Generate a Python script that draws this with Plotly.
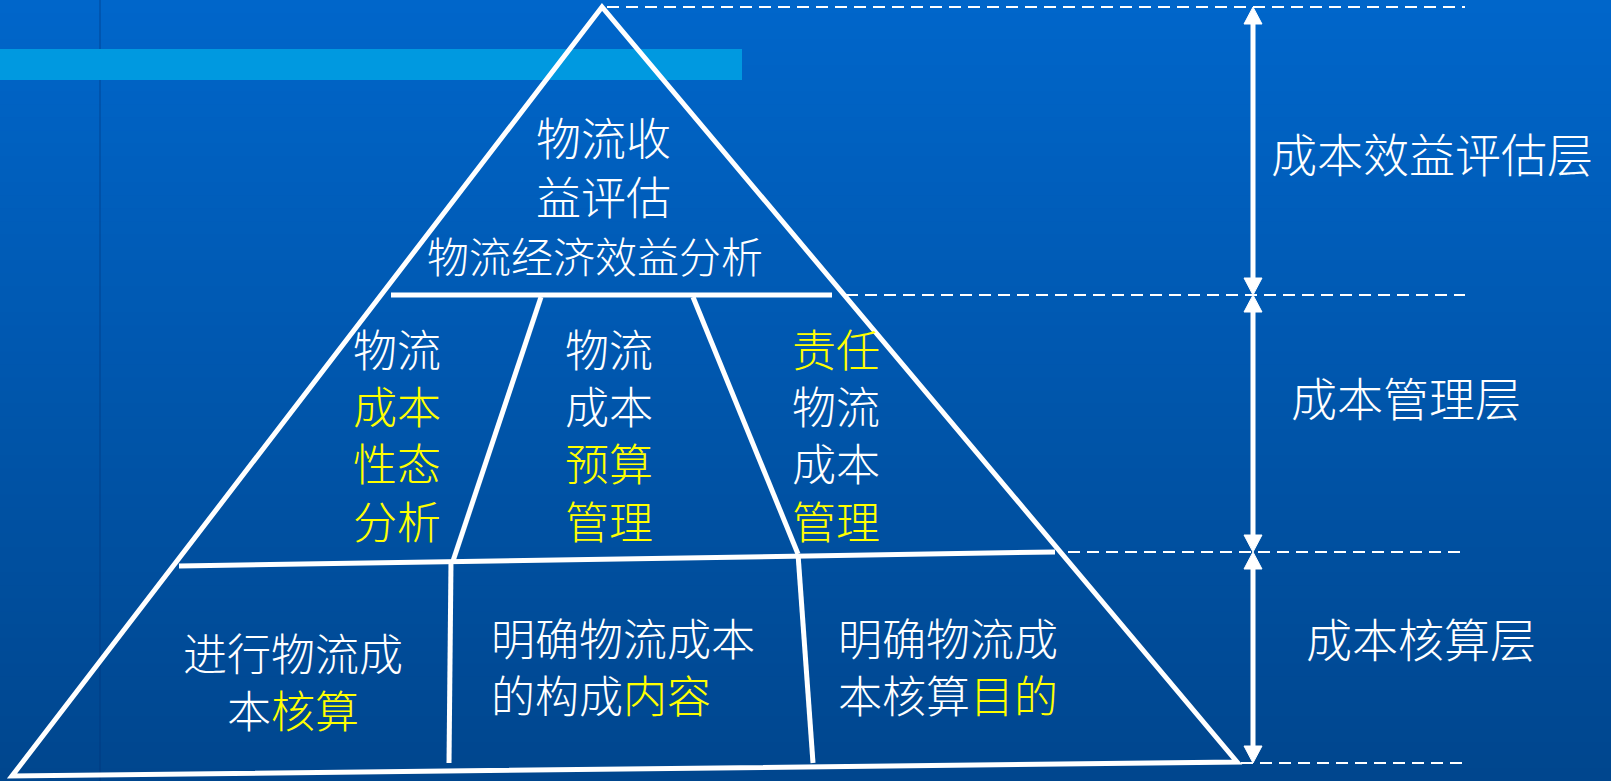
import plotly.graph_objects as go

# ---------------- data (text content) ----------------
layer_labels = ["成本效益评估层", "成本管理层", "成本核算层"]

top_lines = ["物流收", "益评估"]
top_subtitle = "物流经济效益分析"

mid_left_words = ["物流", "成本", "性态", "分析"]
mid_left_highlight = [0, 1, 1, 1]
mid_center_words = ["物流", "成本", "预算", "管理"]
mid_center_highlight = [0, 0, 1, 1]
mid_right_words = ["责任", "物流", "成本", "管理"]
mid_right_highlight = [1, 0, 0, 1]

# each bottom cell: list of lines, each line a list of (text, highlighted)
bottom_left_cell = [[("进行物流成", 0)], [("本", 0), ("核算", 1)]]
bottom_center_cell = [[("明确物流成本", 0)], [("的构成", 0), ("内容", 1)]]
bottom_right_cell = [[("明确物流成", 0)], [("本核算", 0), ("目的", 1)]]

# ---------------- geometry (pixel layout) ----------------
W, H = 1611, 781
APEX = (602, 7)
BL = (12, 776)
BR = (1237, 762)
LAYER_Y = [7, 295, 552, 763]          # layer boundaries (right scale)
ARROW_X = 1253
DASH_END = 1465
DASH_START = [607, 846, 1068, 1241]

# ---------------- styles ----------------
WHITE = "#FFFFFF"
YELLOW = "#FFFF00"
FONT = "Noto Sans CJK SC"
TOP_COLOR = (0, 102, 202)
BOT_COLOR = (0, 70, 142)


def span(txt, hl):
    return f'<span style="color:{YELLOW}">{txt}</span>' if hl else txt


def rich(segments):
    return "".join(span(t, h) for t, h in segments)


fig = go.Figure()
shapes = []
annotations = []

# background gradient
N = 60
for i in range(N):
    t = i / (N - 1)
    c = tuple(int(round(TOP_COLOR[k] + (BOT_COLOR[k] - TOP_COLOR[k]) * t)) for k in range(3))
    shapes.append(dict(type="rect", xref="x", yref="y", x0=0, x1=W,
                       y0=H * i / N, y1=H * (i + 1) / N + 1,
                       fillcolor=f"rgb{c}", line=dict(width=0), layer="below"))
# faint vertical line on the left
shapes.append(dict(type="line", x0=100, x1=100, y0=0, y1=H,
                   line=dict(color="rgba(0,50,120,0.3)", width=2), layer="below"))
# light blue banner
shapes.append(dict(type="rect", x0=0, x1=742, y0=49, y1=80,
                   fillcolor="#0099E0", line=dict(width=0), layer="below"))

LW = 5
# pyramid outline
shapes.append(dict(type="path",
                   path=f"M {APEX[0]},{APEX[1]} L {BL[0]},{BL[1]} L {BR[0]},{BR[1]} Z",
                   line=dict(color=WHITE, width=LW)))
# inner lines
inner = [
    (391, 295, 832, 295),     # top divider
    (179, 566, 1055, 552),    # middle divider
    (541, 297, 453, 561),     # middle-left slanted
    (693, 297, 798, 554),     # middle-right slanted
    (451, 561, 449, 763),     # bottom-left vertical
    (798, 554, 813, 763),     # bottom-right vertical
]
for x0, y0, x1, y1 in inner:
    shapes.append(dict(type="line", x0=x0, y0=y0, x1=x1, y1=y1,
                       line=dict(color=WHITE, width=LW)))

# dashed guide lines
for y, xs in zip(LAYER_Y, DASH_START):
    shapes.append(dict(type="line", x0=xs, x1=DASH_END, y0=y, y1=y,
                       line=dict(color=WHITE, width=2, dash="12px,7px")))

# double-headed arrows
AH, AW = 17, 9
for y0, y1 in zip(LAYER_Y[:-1], LAYER_Y[1:]):
    shapes.append(dict(type="line", x0=ARROW_X, x1=ARROW_X, y0=y0 + AH - 2, y1=y1 - AH + 2,
                       line=dict(color=WHITE, width=5)))
    shapes.append(dict(type="path",
                       path=f"M {ARROW_X},{y0} L {ARROW_X - AW},{y0 + AH} L {ARROW_X + AW},{y0 + AH} Z",
                       fillcolor=WHITE, line=dict(color=WHITE, width=1)))
    shapes.append(dict(type="path",
                       path=f"M {ARROW_X},{y1} L {ARROW_X - AW},{y1 - AH} L {ARROW_X + AW},{y1 - AH} Z",
                       fillcolor=WHITE, line=dict(color=WHITE, width=1)))


def add_text(x, y, text, size=46, xanchor="center", align="center", color=WHITE):
    annotations.append(dict(x=x, y=y, text=text, showarrow=False, xref="x", yref="y",
                            xanchor=xanchor, yanchor="middle", align=align,
                            font=dict(family=FONT, size=size, color=color, weight=300)))


# right-hand layer labels
for label, (x, y) in zip(layer_labels, [(1432, 152), (1406, 396), (1421, 637)]):
    add_text(x, y, label, size=46)

# top layer
add_text(603, 166, "<br>".join(top_lines), size=45)
add_text(595, 254, top_subtitle, size=42)

# middle layer columns
for words, hls, cx in [(mid_left_words, mid_left_highlight, 397),
                       (mid_center_words, mid_center_highlight, 609),
                       (mid_right_words, mid_right_highlight, 836)]:
    txt = "<br>".join(span(w, h) for w, h in zip(words, hls))
    add_text(cx, 434, txt, size=44)

# bottom layer cells
for cell, (x, y, anchor) in [(bottom_left_cell, (293, 680, "center")),
                             (bottom_center_cell, (489, 665, "left")),
                             (bottom_right_cell, (836, 665, "left"))]:
    txt = "<br>".join(rich(segs) for segs in cell)
    add_text(x, y, txt, size=44, xanchor=anchor, align=anchor)

fig.update_layout(
    width=W, height=H,
    margin=dict(l=0, r=0, t=0, b=0),
    paper_bgcolor="rgb(0,70,142)", plot_bgcolor="rgb(0,70,142)",
    xaxis=dict(range=[0, W], visible=False, fixedrange=True),
    yaxis=dict(range=[H, 0], visible=False, fixedrange=True),
    shapes=shapes, annotations=annotations, showlegend=False,
)

fig.write_html("out.html", config={"displayModeBar": False},
               post_script="document.body.style.margin='0';document.body.style.padding='0';"
                           "document.body.style.overflow='hidden';")
